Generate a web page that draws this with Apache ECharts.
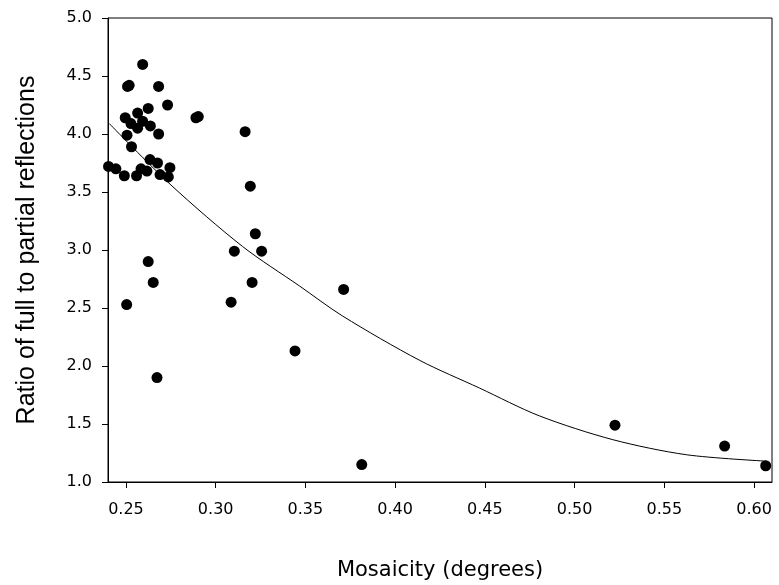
<!DOCTYPE html>
<html>
<head>
<meta charset="utf-8">
<script src="https://cdn.jsdelivr.net/npm/echarts@6/dist/echarts.min.js"></script>
<style>
  html, body { margin: 0; padding: 0; background: #fff; }
  #my-charts { width: 779px; height: 585px; }
</style>
</head>
<body>
<div id="my-charts"></div>
<script>
// measured points (mosaicity, ratio)
var mosaicity = [
  0.2403, 0.2444, 0.2491, 0.2496, 0.2506, 0.2509, 0.2518, 0.2528, 0.2531, 0.2504,
  0.2559, 0.2565, 0.2565, 0.2584, 0.2593, 0.2593, 0.2617, 0.2624, 0.2634, 0.2636,
  0.2624, 0.2652, 0.2673, 0.2676, 0.2682, 0.2682, 0.2690, 0.2732, 0.2736, 0.2745,
  0.2890, 0.2903, 0.3086, 0.3104, 0.3164, 0.3193, 0.3203, 0.3221, 0.3256, 0.3442,
  0.3713, 0.3814, 0.5225, 0.5836, 0.6065
]
var ratio = [
  3.72, 3.70, 3.64, 4.14, 3.99, 4.41, 4.42, 4.09, 3.89, 2.53,
  3.64, 4.18, 4.05, 3.70, 4.11, 4.60, 3.68, 4.22, 3.78, 4.07,
  2.90, 2.72, 1.90, 3.75, 4.41, 4.00, 3.65, 4.25, 3.63, 3.71,
  4.14, 4.15, 2.55, 2.99, 4.02, 3.55, 2.72, 3.14, 2.99, 2.13,
  2.66, 1.15, 1.49, 1.31, 1.14
]

// fitted curve
var fitX = [0.2407, 0.2751, 0.3150, 0.3467, 0.3708, 0.4135, 0.4470, 0.4804, 0.5213, 0.5623, 0.6065]
var fitY = [4.09, 3.56, 3.03, 2.69, 2.43, 2.05, 1.81, 1.57, 1.365, 1.235, 1.18]

var xTicks = [0.25, 0.30, 0.35, 0.40, 0.45, 0.50, 0.55, 0.60]

var myChart = echarts.init(document.getElementById('my-charts'))

var wide = 'DejaVu Sans, sans-serif'
var arial = 'Liberation Sans, Arial, sans-serif'

var option = {
  animation: false,
  grid: {
    left: 108,
    right: 7,
    top: 18,
    bottom: 103,
    outerBoundsMode: 'none',
    containLabel: false,
    show: true,
    borderColor: '#000',
    borderWidth: 1,
    backgroundColor: 'transparent'
  },
  xAxis: {
    type: 'value',
    min: 0.24,
    max: 0.61,
    name: 'Mosaicity (degrees)',
    nameLocation: 'middle',
    nameGap: 78,
    nameTextStyle: { color: '#000', fontSize: 21, fontFamily: wide },
    axisLine: { show: true, lineStyle: { color: '#000', width: 1 } },
    axisTick: {
      show: true,
      length: 6,
      inside: false,
      customValues: xTicks,
      lineStyle: { color: '#000' }
    },
    axisLabel: {
      margin: 20,
      color: '#000',
      fontSize: 16,
      fontFamily: wide,
      customValues: xTicks,
      formatter: function(v) {
        return v.toFixed(2)
      }
    },
    splitLine: { show: false }
  },
  yAxis: {
    type: 'value',
    min: 1,
    max: 5,
    interval: 0.5,
    name: 'Ratio of full to partial reflections',
    nameLocation: 'middle',
    nameGap: 68,
    nameTextStyle: { color: '#000', fontSize: 25, fontFamily: arial },
    axisLine: { show: true, lineStyle: { color: '#000', width: 1 } },
    axisTick: { show: true, length: 6, lineStyle: { color: '#000' } },
    axisLabel: {
      margin: 16,
      color: '#000',
      fontSize: 16,
      fontFamily: wide,
      formatter: function(v) {
        return v.toFixed(1)
      }
    },
    splitLine: { show: false }
  },
  series: [
    {
      type: 'line',
      data: fitX.map(function(x, i) { return [x, fitY[i]] }),
      smooth: 0.3,
      symbol: 'none',
      lineStyle: { color: '#000', width: 1 },
      z: 2
    },
    {
      type: 'scatter',
      data: mosaicity.map(function(x, i) { return [x, ratio[i]] }),
      symbol: 'circle',
      symbolSize: 11,
      itemStyle: { color: '#000', opacity: 1 },
      z: 3
    }
  ]
}

myChart.setOption(option)
myChart.resize()
</script>
</body>
</html>
